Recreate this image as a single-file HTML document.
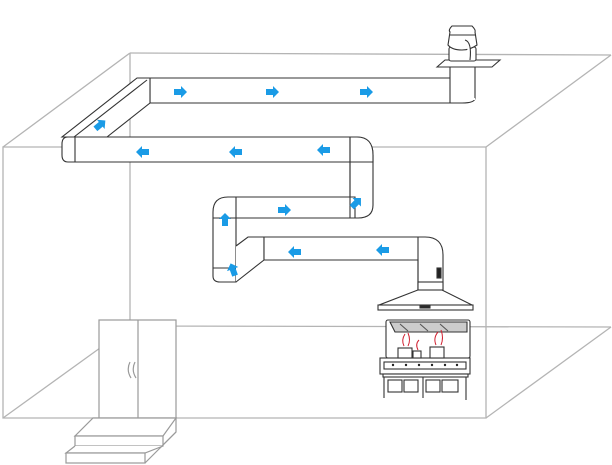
<!DOCTYPE html>
<html><head><style>html,body{margin:0;padding:0;background:#fff}svg{display:block}</style></head>
<body>
<svg width="612" height="465" viewBox="0 0 612 465" xmlns="http://www.w3.org/2000/svg">
<defs>
<g id="ar"><path d="M-6,-3 L1,-3 L1,-6 L7,0 L1,6 L1,3 L-6,3 Z" fill="#1a9be6"/></g>
</defs>
<g fill="none" stroke="#b4b4b4" stroke-width="1.3">
<path d="M130,53 L611,55"/>
<path d="M130,53 L130,326 L611,327"/>
<path d="M3,147 L486,147 L486,418 L3,418 Z"/>
<path d="M3,147 L130,53"/>
<path d="M486,147 L611,55"/>
<path d="M3,418 L100,348"/>
<path d="M486,418 L611,327"/>
</g>
<g fill="#fff" stroke="#9a9a9a" stroke-width="1.2">
<rect x="99" y="320" width="77" height="98"/>
<line x1="138" y1="320" x2="138" y2="418"/>
<path d="M176,418 L176,432 L160,448"/>
<path d="M93,418 L176,418 L163,436 L75,436 Z"/>
<rect x="75" y="436" width="88" height="10"/>
<path d="M75,446 L66,453 L145,453 L163,446"/>
<rect x="66" y="453" width="79" height="10"/>
<path d="M145,463 L176,432"/>
<path d="M130,362 Q126,370 131,378 M135,362 Q131,370 136,378" fill="none"/>
</g>
<g fill="#fff" stroke="#333" stroke-width="1.1">
<!-- top duct -->
<path d="M150,78 L455,78 Q475,78 475,98 Q475,103 462,103 L150,103 Z"/>
<rect x="450" y="60" width="25" height="40" stroke="none"/>
<line x1="450" y1="62" x2="450" y2="103"/><line x1="475" y1="62" x2="475" y2="98"/>
<!-- diagonal -->
<path d="M137,78 L150,78 L150,103 L107,137 L62,137 Z"/>
<line x1="147" y1="80" x2="74" y2="137"/>
<!-- left long duct -->
<path d="M68,137 L355,137 Q373,137 373,155 L373,162 L68,162 Q62,162 62,155 L62,144 Q62,137 68,137 Z"/>
<line x1="75" y1="137" x2="75" y2="162"/>
<path d="M350,137 L357,137 Q373,137 373,155 L373,205 Q373,218 358,218 L350,218 Z"/>
<line x1="350" y1="162" x2="373" y2="162"/>
<path d="M228,197 L355,197 L355,218 L228,218 Z"/>
<path d="M228,197 Q213,197 213,212 L213,276 Q213,282 220,282 L236,282 L236,197 Z"/>
<line x1="213" y1="218" x2="236" y2="218"/>
<path d="M350,137 L350,218"/>
<path d="M236,282 L264,260 L264,237 L248,237 L236,246"/>
<path d="M250,237 L425,237 Q443,237 443,255 L443,292 L418,292 L418,260 L264,260 L264,237 Z"/>
<line x1="213" y1="268" x2="236" y2="268"/>
<line x1="418" y1="237" x2="418" y2="292"/>
<rect x="437" y="268" width="4" height="10" fill="#222"/>
<!-- fan -->
<path d="M437,67 L445,60 L500,60 L492,67 Z"/>
<rect x="449" y="47" width="27" height="14" rx="2"/>
<path d="M450,32 Q448,30 452,26 L472,26 Q476,30 475,32 L477,45 Q470,50 462,50 Q452,50 448,45 Z"/>
<line x1="449" y1="35" x2="476" y2="35"/>
<path d="M465,40 Q472,42 470,60"/>
<!-- hood -->
<path d="M423,288 L438,288 L472,305 L379,305 Z"/>
<rect x="378" y="305" width="95" height="5"/>
<rect x="418" y="282" width="25" height="8"/>
<rect x="420" y="306" width="10" height="2" fill="#222"/>
<!-- stove -->
<rect x="386" y="320" width="84" height="38" rx="2"/>
<path d="M390,322 L467,322 L467,332 L395,332 Z" fill="#ccc"/>
<path d="M400,324 L408,331 M420,324 L428,331 M440,324 L448,331" stroke="#555"/>
<rect x="380" y="358" width="90" height="16"/>
<rect x="384" y="362" width="82" height="7"/>
<rect x="383" y="374" width="85" height="3"/>
<path d="M384,377 L384,398 M423,377 L423,398 M466,377 L466,400"/>
<rect x="388" y="380" width="14" height="12"/><rect x="404" y="380" width="14" height="12"/><rect x="426" y="380" width="14" height="12"/><rect x="442" y="380" width="16" height="12"/>
<rect x="398" y="348" width="14" height="10"/><rect x="413" y="351" width="8" height="7"/><rect x="430" y="347" width="14" height="11"/>
</g>
<g fill="none" stroke="#d02030" stroke-width="1">
<path d="M404,346 Q401,340 405,334 M408,346 Q411,340 408,333 M418,350 Q415,344 419,340 M436,345 Q433,338 438,332 M441,345 Q444,338 441,330"/>
</g>
<g fill="#222"><circle cx="393" cy="365" r="1.2"/><circle cx="406" cy="365" r="1.2"/><circle cx="419" cy="365" r="1.2"/><circle cx="432" cy="365" r="1.2"/><circle cx="445" cy="365" r="1.2"/><circle cx="457" cy="365" r="1.2"/></g>
<use href="#ar" transform="translate(180,92)"/>
<use href="#ar" transform="translate(272,92)"/>
<use href="#ar" transform="translate(366,92)"/>
<use href="#ar" transform="translate(100,125) rotate(-40)"/>
<use href="#ar" transform="translate(143,152) rotate(180)"/>
<use href="#ar" transform="translate(236,152) rotate(180)"/>
<use href="#ar" transform="translate(324,150) rotate(180)"/>
<use href="#ar" transform="translate(356,203) rotate(-45)"/>
<use href="#ar" transform="translate(284,210)"/>
<use href="#ar" transform="translate(225,220) rotate(-90)"/>
<use href="#ar" transform="translate(233,270) rotate(-110)"/>
<use href="#ar" transform="translate(295,252) rotate(180)"/>
<use href="#ar" transform="translate(383,250) rotate(180)"/>
</svg>
</body></html>
